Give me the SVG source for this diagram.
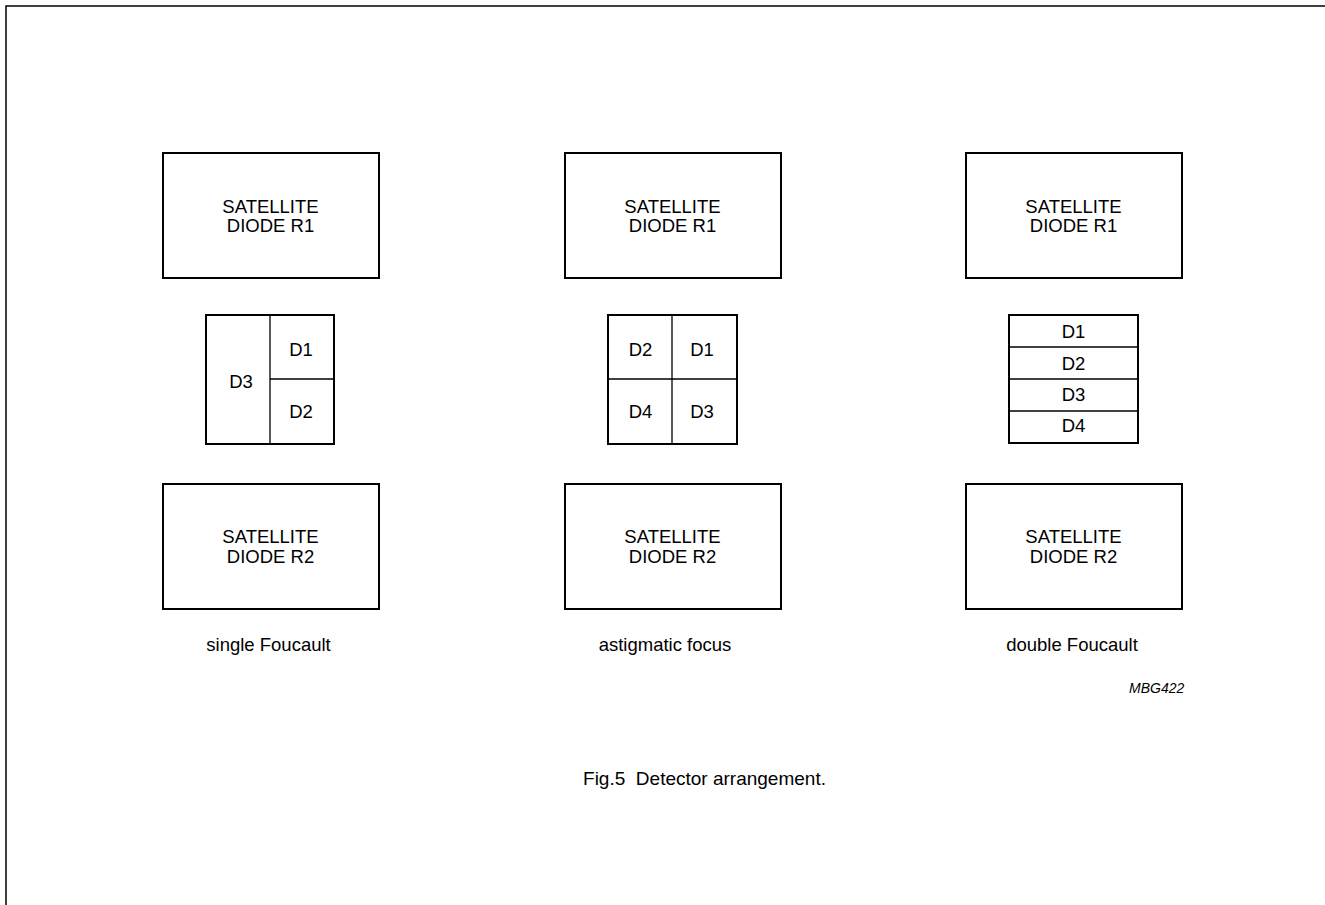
<svg xmlns="http://www.w3.org/2000/svg" width="1325" height="905" viewBox="0 0 1325 905">
<style>
text{font-family:"Liberation Sans",Arial,sans-serif;font-size:18.5px;fill:#000;text-anchor:middle}
.box{fill:#fff;stroke:#000;stroke-width:2}
.div{stroke:#000;stroke-width:1.3;fill:none}
.cap{font-size:18.5px}
.code{font-size:14px;font-style:italic;text-anchor:start}
.fig{font-size:19px}
</style>
<rect width="1325" height="905" fill="#fff"/>
<path d="M6,905 V6 H1325" fill="none" stroke="#000" stroke-width="1.5"/>

<g id="sf-r1"><rect class="box" x="163" y="153" width="216" height="125"/><text x="270.5" y="212.5">SATELLITE</text><text x="270.5" y="232">DIODE R1</text></g>
<g id="af-r1"><rect class="box" x="565" y="153" width="216" height="125"/><text x="672.5" y="212.5">SATELLITE</text><text x="672.5" y="232">DIODE R1</text></g>
<g id="df-r1"><rect class="box" x="966" y="153" width="216" height="125"/><text x="1073.5" y="212.5">SATELLITE</text><text x="1073.5" y="232">DIODE R1</text></g>

<g id="sf-det"><rect class="box" x="206" y="315" width="128" height="129"/><path class="div" d="M270,315 V444 M270,379 H334"/><text x="241" y="388">D3</text><text x="301" y="356">D1</text><text x="301" y="418">D2</text></g>
<g id="af-det"><rect class="box" x="608" y="315" width="129" height="129"/><path class="div" d="M672,315 V444 M608,379 H737"/><text x="640.5" y="356">D2</text><text x="702" y="356">D1</text><text x="640.5" y="418">D4</text><text x="702" y="418">D3</text></g>
<g id="df-det"><rect class="box" x="1009" y="315" width="129" height="128"/><path class="div" d="M1009,347 H1138 M1009,379 H1138 M1009,411 H1138"/><text x="1073.5" y="338">D1</text><text x="1073.5" y="370">D2</text><text x="1073.5" y="401">D3</text><text x="1073.5" y="432">D4</text></g>

<g id="sf-r2"><rect class="box" x="163" y="484" width="216" height="125"/><text x="270.5" y="543">SATELLITE</text><text x="270.5" y="562.5">DIODE R2</text></g>
<g id="af-r2"><rect class="box" x="565" y="484" width="216" height="125"/><text x="672.5" y="543">SATELLITE</text><text x="672.5" y="562.5">DIODE R2</text></g>
<g id="df-r2"><rect class="box" x="966" y="484" width="216" height="125"/><text x="1073.5" y="543">SATELLITE</text><text x="1073.5" y="562.5">DIODE R2</text></g>

<g id="labels">
<text class="cap" x="268.5" y="651">single Foucault</text>
<text class="cap" x="665" y="651">astigmatic focus</text>
<text class="cap" x="1072" y="651">double Foucault</text>
<text class="code" x="1129" y="693">MBG422</text>
<text class="fig" x="704.5" y="785" xml:space="preserve">Fig.5  Detector arrangement.</text>
</g>
<g id="connectors"/>
</svg>
